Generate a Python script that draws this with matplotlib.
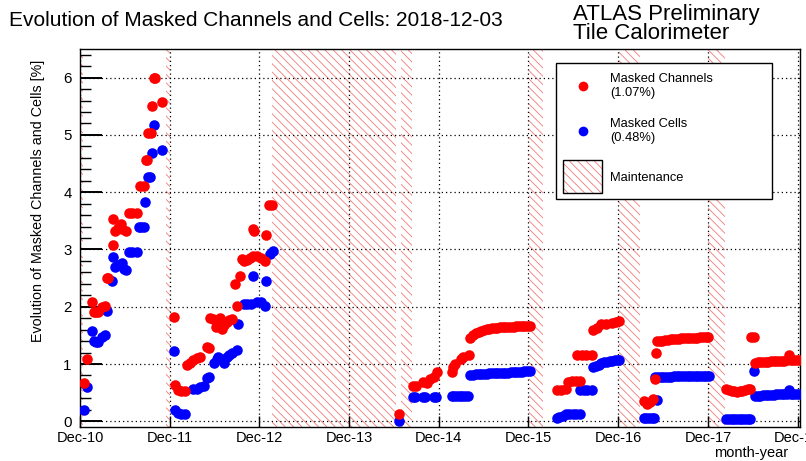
import matplotlib
matplotlib.use("Agg")
import matplotlib.pyplot as plt
from matplotlib.patches import Rectangle
from matplotlib.lines import Line2D
from matplotlib.ticker import MultipleLocator

# ---------------- data (decimal years, percent) ----------------
chan_2011_year = [2010.96, 2010.99, 2011.05, 2011.07, 2011.10, 2011.12, 2011.16, 2011.20, 2011.22, 2011.23,
                  2011.28, 2011.29, 2011.31, 2011.34, 2011.37, 2011.39, 2011.43, 2011.46, 2011.50, 2011.55,
                  2011.58, 2011.63, 2011.65, 2011.66, 2011.68, 2011.71, 2011.72, 2011.74, 2011.75, 2011.83]
chan_2011_pct = [0.67, 1.09, 2.08, 1.91, 1.91, 1.91, 2.00, 2.02, 2.50, 2.50,
                 3.08, 3.53, 3.33, 3.38, 3.45, 3.36, 3.32, 3.64, 3.64, 3.64,
                 4.10, 4.10, 4.57, 4.57, 5.03, 5.03, 5.50, 6.00, 6.00, 5.58]

chan_2012_year = [2011.96, 2011.98, 2012.01, 2012.04, 2012.09, 2012.11, 2012.14, 2012.18, 2012.22, 2012.26,
                  2012.33, 2012.35, 2012.37, 2012.40, 2012.43, 2012.45, 2012.48, 2012.50, 2012.52, 2012.56,
                  2012.58, 2012.61, 2012.65, 2012.67, 2012.70, 2012.72, 2012.75, 2012.78, 2012.81, 2012.85,
                  2012.86, 2012.85, 2012.89, 2012.93, 2012.98, 2012.99, 2013.02, 2013.06]
chan_2012_pct = [1.82, 0.64, 0.55, 0.52, 0.52, 0.99, 1.01, 1.07, 1.10, 1.13,
                 1.30, 1.28, 1.80, 1.78, 1.65, 1.76, 1.81, 1.61, 1.68, 1.73,
                 1.76, 1.79, 2.40, 2.02, 2.54, 2.83, 2.80, 2.81, 2.85, 3.36,
                 3.33, 2.89, 2.88, 2.85, 2.79, 3.26, 3.78, 3.78]

chan_2015_year = [2014.47, 2014.63, 2014.66, 2014.74, 2014.78, 2014.82, 2014.86, 2014.90,
                  2015.06, 2015.08, 2015.10, 2015.16, 2015.19, 2015.25,
                  2015.27, 2015.30, 2015.33, 2015.36, 2015.39, 2015.42, 2015.45, 2015.48, 2015.51, 2015.54,
                  2015.57, 2015.60, 2015.63, 2015.66, 2015.69, 2015.72, 2015.75, 2015.78, 2015.81, 2015.84,
                  2015.87, 2015.90, 2015.93]
chan_2015_pct = [0.13, 0.62, 0.62, 0.68, 0.66, 0.74, 0.77, 0.86,
                 0.86, 0.95, 1.00, 1.09, 1.12, 1.15,
                 1.46, 1.50, 1.54, 1.56, 1.58, 1.60, 1.61, 1.61, 1.62, 1.63,
                 1.63, 1.64, 1.65, 1.65, 1.64, 1.65, 1.65, 1.66, 1.66, 1.66,
                 1.67, 1.67, 1.67]

chan_2016_year = [2016.23, 2016.28, 2016.33, 2016.36, 2016.40, 2016.45, 2016.49,
                  2016.46, 2016.51, 2016.56, 2016.62,
                  2016.64, 2016.68, 2016.73, 2016.78, 2016.85, 2016.89, 2016.93]
chan_2016_pct = [0.54, 0.55, 0.56, 0.68, 0.70, 0.70, 0.71,
                 1.16, 1.16, 1.16, 1.16,
                 1.60, 1.63, 1.69, 1.70, 1.71, 1.73, 1.75]

chan_2017_year = [2017.20, 2017.24, 2017.27, 2017.31, 2017.33, 2017.34,
                  2017.35, 2017.38, 2017.41, 2017.44, 2017.47, 2017.50, 2017.53, 2017.56, 2017.59, 2017.62,
                  2017.65, 2017.68, 2017.71, 2017.74, 2017.77, 2017.80, 2017.83, 2017.86, 2017.89, 2017.92]
chan_2017_pct = [0.36, 0.30, 0.33, 0.39, 0.74, 1.19,
                 1.40, 1.41, 1.41, 1.42, 1.42, 1.43, 1.43, 1.44, 1.44, 1.45,
                 1.45, 1.45, 1.46, 1.46, 1.46, 1.46, 1.47, 1.47, 1.47, 1.47]

chan_2018_year = [2018.12, 2018.15, 2018.18, 2018.21, 2018.24, 2018.27, 2018.30, 2018.33, 2018.36, 2018.39,
                  2018.40, 2018.43,
                  2018.44, 2018.47, 2018.50, 2018.53, 2018.56, 2018.59, 2018.62, 2018.65, 2018.68, 2018.71,
                  2018.74, 2018.77, 2018.80, 2018.82, 2018.84, 2018.87, 2018.90, 2018.93]
chan_2018_pct = [0.56, 0.55, 0.53, 0.52, 0.51, 0.52, 0.53, 0.55, 0.56, 0.56,
                 1.47, 1.47,
                 1.02, 1.03, 1.03, 1.04, 1.04, 1.04, 1.05, 1.05, 1.05, 1.05,
                 1.06, 1.06, 1.07, 1.16, 1.07, 1.07, 1.07, 1.07]

cell_2011_year = [2010.96, 2010.99, 2011.05, 2011.07, 2011.10, 2011.12, 2011.16, 2011.20, 2011.22, 2011.27,
                  2011.29, 2011.31, 2011.34, 2011.38, 2011.41, 2011.43, 2011.46, 2011.50, 2011.55, 2011.57,
                  2011.60, 2011.63, 2011.64, 2011.68, 2011.70, 2011.72, 2011.74, 2011.83]
cell_2011_pct = [0.20, 0.60, 1.58, 1.41, 1.38, 1.38, 1.48, 1.50, 1.93, 2.45,
                 2.87, 2.69, 2.72, 2.77, 2.66, 2.64, 2.95, 2.95, 2.95, 3.40,
                 3.40, 3.40, 3.82, 4.26, 4.26, 4.68, 5.17, 4.74]

cell_2012_year = [2011.96, 2011.98, 2012.01, 2012.04, 2012.09, 2012.18, 2012.22, 2012.26, 2012.30, 2012.33,
                  2012.36, 2012.41, 2012.44, 2012.46, 2012.49, 2012.52, 2012.56, 2012.58, 2012.61, 2012.67,
                  2012.68, 2012.74, 2012.78, 2012.82, 2012.85, 2012.89, 2012.93, 2012.98, 2012.99, 2013.04,
                  2013.07]
cell_2012_pct = [1.23, 0.20, 0.15, 0.13, 0.12, 0.56, 0.56, 0.59, 0.62, 0.76,
                 0.78, 1.01, 1.08, 1.12, 1.08, 1.01, 1.12, 1.15, 1.20, 1.25,
                 1.70, 2.04, 2.05, 2.05, 2.54, 2.09, 2.09, 2.02, 2.45, 2.92,
                 2.97]

cell_2015_year = [2014.47, 2014.63, 2014.65, 2014.74, 2014.76, 2014.86, 2014.88,
                  2015.06, 2015.09, 2015.12, 2015.15, 2015.18, 2015.21, 2015.24,
                  2015.27, 2015.30, 2015.33, 2015.36, 2015.39, 2015.42, 2015.45, 2015.48, 2015.51, 2015.54,
                  2015.57, 2015.60, 2015.63, 2015.66, 2015.69, 2015.72, 2015.75, 2015.78, 2015.81, 2015.84,
                  2015.87, 2015.90, 2015.93]
cell_2015_pct = [0.00, 0.43, 0.43, 0.43, 0.43, 0.43, 0.43,
                 0.45, 0.45, 0.45, 0.45, 0.45, 0.45, 0.45,
                 0.80, 0.81, 0.82, 0.83, 0.83, 0.83, 0.83, 0.84, 0.84, 0.84,
                 0.85, 0.85, 0.85, 0.85, 0.85, 0.86, 0.86, 0.86, 0.86, 0.86,
                 0.87, 0.87, 0.87]

cell_2016_year = [2016.23, 2016.26, 2016.30, 2016.33, 2016.37, 2016.41, 2016.45, 2016.49,
                  2016.49, 2016.53, 2016.57, 2016.62,
                  2016.64, 2016.67, 2016.70, 2016.73, 2016.76, 2016.79, 2016.82, 2016.85, 2016.88, 2016.91,
                  2016.93]
cell_2016_pct = [0.05, 0.07, 0.10, 0.12, 0.13, 0.13, 0.13, 0.13,
                 0.55, 0.55, 0.55, 0.55,
                 0.94, 0.97, 0.99, 1.01, 1.03, 1.04, 1.05, 1.06, 1.07, 1.07,
                 1.07]

cell_2017_year = [2017.20, 2017.23, 2017.26, 2017.29, 2017.32, 2017.35,
                  2017.33, 2017.36, 2017.39, 2017.42, 2017.45, 2017.48, 2017.51, 2017.54, 2017.57, 2017.60,
                  2017.63, 2017.66, 2017.69, 2017.72, 2017.75, 2017.78, 2017.81, 2017.84, 2017.87, 2017.90,
                  2017.93]
cell_2017_pct = [0.06, 0.06, 0.06, 0.06, 0.06, 0.37,
                 0.78, 0.78, 0.78, 0.78, 0.78, 0.78, 0.78, 0.79, 0.79, 0.79,
                 0.79, 0.79, 0.79, 0.79, 0.79, 0.79, 0.79, 0.79, 0.79, 0.79,
                 0.79]

cell_2018_year = [2018.12, 2018.15, 2018.18, 2018.21, 2018.24, 2018.27, 2018.30, 2018.33, 2018.36, 2018.39,
                  2018.43,
                  2018.44, 2018.47, 2018.50, 2018.53, 2018.56, 2018.59, 2018.62, 2018.65, 2018.68, 2018.71,
                  2018.74, 2018.77, 2018.80, 2018.82, 2018.84, 2018.87, 2018.90, 2018.93]
cell_2018_pct = [0.04, 0.04, 0.04, 0.04, 0.04, 0.04, 0.04, 0.04, 0.04, 0.04,
                 0.88,
                 0.45, 0.45, 0.45, 0.46, 0.46, 0.46, 0.46, 0.46, 0.47, 0.47,
                 0.47, 0.47, 0.47, 0.55, 0.48, 0.48, 0.48, 0.48]

maint_start = [2010.85, 2011.88, 2013.06, 2014.50, 2015.92, 2016.93, 2017.92]
maint_end = [2010.95, 2011.92, 2014.44, 2014.62, 2016.08, 2017.16, 2018.11]

tick_years = [2010, 2011, 2012, 2013, 2014, 2015, 2016, 2017, 2018]
tick_labels = ["Dec-10", "Dec-11", "Dec-12", "Dec-13", "Dec-14", "Dec-15", "Dec-16", "Dec-17", "Dec-18"]
y_ticks = [0, 1, 2, 3, 4, 5, 6]

legend_chan = "Masked Channels"
legend_chan_pct = "(1.07%)"
legend_cell = "Masked Cells"
legend_cell_pct = "(0.48%)"

# ---------------- assemble ----------------
chan_year = chan_2011_year + chan_2012_year + chan_2015_year + chan_2016_year + chan_2017_year + chan_2018_year
chan_pct = chan_2011_pct + chan_2012_pct + chan_2015_pct + chan_2016_pct + chan_2017_pct + chan_2018_pct
cell_year = cell_2011_year + cell_2012_year + cell_2015_year + cell_2016_year + cell_2017_year + cell_2018_year
cell_pct = cell_2011_pct + cell_2012_pct + cell_2015_pct + cell_2016_pct + cell_2017_pct + cell_2018_pct
assert len(chan_year) == len(chan_pct), (len(chan_year), len(chan_pct))
assert len(cell_year) == len(cell_pct), (len(cell_year), len(cell_pct))

HATCH = "#f27a7a"
plt.rcParams["font.family"] = ["Liberation Sans", "DejaVu Sans"]
plt.rcParams["hatch.linewidth"] = 0.6
plt.rcParams["hatch.color"] = HATCH

W, H = 806, 461
fig = plt.figure(figsize=(W / 100, H / 100), dpi=100)
fig.patch.set_facecolor("white")


def fx(px):
    return px / W


def fy(py):
    return 1 - py / H


L, R, T, B = 80, 800, 49, 427
ax = fig.add_axes([fx(L), fy(B), (R - L) / W, (B - T) / H])

x0 = 2010 + 11 / 12
ax.set_xlim(x0, x0 + (R - L) / 89.7)
ax.set_ylim(-0.1, 6.5)

for s, e in zip(maint_start, maint_end):
    ax.axvspan(s, e, facecolor="none", edgecolor=HATCH, hatch="\\\\\\\\", linewidth=0, zorder=0.5)

ax.plot(cell_year, cell_pct, "o", color="#0000ff", ms=7.6, mew=0, ls="none", zorder=3)
ax.plot(chan_year, chan_pct, "o", color="#ff0000", ms=7.6, mew=0, ls="none", zorder=4)

ax.set_xticks([y + 11 / 12 for y in tick_years])
ax.set_xticklabels(tick_labels)
ax.set_yticks(y_ticks)
ax.yaxis.set_minor_locator(MultipleLocator(0.2))
ax.grid(True, which="major", color="black", linestyle=(0, (1, 2.4)), linewidth=0.9)
ax.set_axisbelow("line")

ax.tick_params(axis="x", which="major", direction="in", length=8.1, width=1.0, pad=3,
               labelsize=10.5, top=False)
ax.tick_params(axis="x", which="minor", bottom=False, top=False)
ax.tick_params(axis="y", which="major", direction="in", length=15.5, width=1.4, pad=6,
               labelsize=10.8, right=False)
ax.tick_params(axis="y", which="minor", direction="in", length=7.8, width=1.0, right=False)
for sp in ax.spines.values():
    sp.set_linewidth(1.0)
    sp.set_color("black")

# texts
fig.text(fx(9), fy(26.5), "Evolution of Masked Channels and Cells: 2018-12-03", fontsize=15, va="baseline")
fig.text(fx(573), fy(20), "ATLAS Preliminary", fontsize=16, va="baseline")
fig.text(fx(573), fy(39), "Tile Calorimeter", fontsize=16, va="baseline")
fig.text(fx(38), fy(60), "Evolution of Masked Channels and Cells [%]", rotation=90,
         ha="center", va="top", fontsize=10.3)
fig.text(fx(788), fy(452.5), "month-year", ha="right", va="center", fontsize=10.5)

# legend box
fig.add_artist(Rectangle((fx(556), fy(199.3)), (771.7 - 556) / W, (199.3 - 62.7) / H,
                         transform=fig.transFigure, facecolor="white", edgecolor="black",
                         linewidth=1.0, zorder=10))
fig.add_artist(Line2D([fx(582.7)], [fy(85.7)], marker="o", color="#ff0000", ms=7.0, mew=0,
                      transform=fig.transFigure, zorder=11))
fig.add_artist(Line2D([fx(582.7)], [fy(131.0)], marker="o", color="#0000ff", ms=7.0, mew=0,
                      transform=fig.transFigure, zorder=11))
fig.add_artist(Rectangle((fx(563.3), fy(192.7)), (601.7 - 563.3) / W, (192.7 - 160) / H,
                         transform=fig.transFigure, facecolor="white", edgecolor=HATCH,
                         hatch="\\\\\\\\", linewidth=0, zorder=11))
fig.add_artist(Rectangle((fx(563.3), fy(192.7)), (601.7 - 563.3) / W, (192.7 - 160) / H,
                         transform=fig.transFigure, facecolor="none", edgecolor="black",
                         linewidth=1.0, zorder=12))
for txt, py in [(legend_chan, 82.3), (legend_chan_pct, 96.0), (legend_cell, 126.7),
                (legend_cell_pct, 140.7), ("Maintenance", 180.7)]:
    fig.text(fx(610), fy(py), txt, fontsize=9.3, va="baseline", zorder=13)

fig.savefig("out.png", dpi=100, facecolor="white")
